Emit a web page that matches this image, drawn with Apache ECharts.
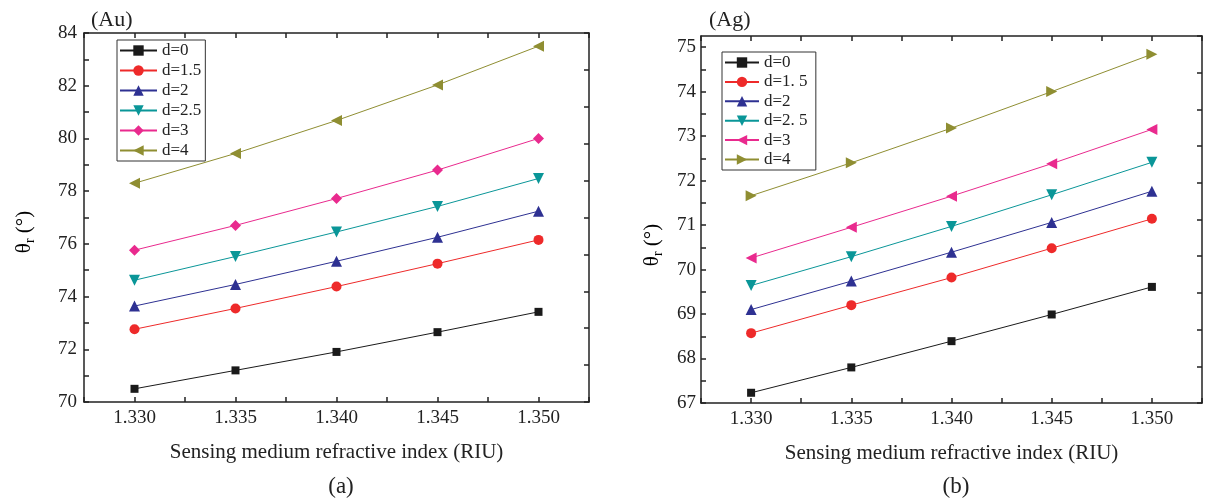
<!DOCTYPE html>
<html><head><meta charset="utf-8">
<script src="https://cdn.jsdelivr.net/npm/echarts@6/dist/echarts.min.js"></script>
<style>html,body{margin:0;padding:0;background:#fff}#c{width:1209px;height:500px}</style>
</head><body><div id="c"></div>
<script>
const xValues = [1.330, 1.335, 1.340, 1.345, 1.350];
const seriesNamesAu = ['d=0', 'd=1.5', 'd=2', 'd=2.5', 'd=3', 'd=4'];
const seriesNamesAg = ['d=0', 'd=1. 5', 'd=2', 'd=2. 5', 'd=3', 'd=4'];
const auD0  = [70.50, 71.20, 71.90, 72.65, 73.42];
const auD15 = [72.76, 73.55, 74.38, 75.25, 76.15];
const auD2  = [73.64, 74.46, 75.34, 76.25, 77.24];
const auD25 = [74.62, 75.52, 76.45, 77.42, 78.48];
const auD3  = [75.76, 76.70, 77.72, 78.80, 80.00];
const auD4  = [78.30, 79.43, 80.68, 82.03, 83.50];
const agD0  = [67.23, 67.80, 68.39, 68.99, 69.61];
const agD15 = [68.57, 69.20, 69.82, 70.48, 71.14];
const agD2  = [69.10, 69.74, 70.39, 71.06, 71.76];
const agD25 = [69.64, 70.29, 70.97, 71.68, 72.41];
const agD3  = [70.26, 70.95, 71.65, 72.38, 73.15];
const agD4  = [71.66, 72.40, 73.18, 74.00, 74.84];

const FONT = 'Liberation Serif';
const colors = ['#1a1a1a', '#ee2a2a', '#2e3192', '#0a9698', '#e92a8e', '#8f8e32'];
const auSymbols = [
  {symbol: 'rect', size: 8, rotate: 0},
  {symbol: 'circle', size: 10, rotate: 0},
  {symbol: 'triangle', size: 11, rotate: 0},
  {symbol: 'triangle', size: 11, rotate: 180},
  {symbol: 'diamond', size: 11, rotate: 0},
  {symbol: 'triangle', size: 11, rotate: 90}
];
const agSymbols = [
  {symbol: 'rect', size: 8, rotate: 0},
  {symbol: 'circle', size: 10, rotate: 0},
  {symbol: 'triangle', size: 11, rotate: 0},
  {symbol: 'triangle', size: 11, rotate: 180},
  {symbol: 'triangle', size: 11, rotate: 90},
  {symbol: 'triangle', size: 11, rotate: -90}
];
const auData = [auD0, auD15, auD2, auD25, auD3, auD4];
const agData = [agD0, agD15, agD2, agD25, agD3, agD4];

const axisLineStyle = {color: '#222', width: 1.5};
function xFmt(v) {
  const k = v * 200;
  return Math.abs(k - Math.round(k)) < 1e-6 ? v.toFixed(3) : '';
}
function xAxes(gi) {
  return [{
    type: 'value', gridIndex: gi, position: 'bottom',
    min: 1.3275, max: 1.3525, interval: 0.0025,
    axisLine: {show: true, lineStyle: axisLineStyle},
    axisTick: {show: true, inside: true, length: 5, lineStyle: axisLineStyle},
    axisLabel: {formatter: xFmt, fontFamily: FONT, fontSize: 19, color: '#222', margin: 7, showMinLabel: true, showMaxLabel: true},
    splitLine: {show: false},
    name: 'Sensing medium refractive index (RIU)', nameLocation: 'middle', nameGap: 40,
    nameTextStyle: {fontFamily: FONT, fontSize: 21, color: '#222'}
  }, {
    type: 'value', gridIndex: gi, position: 'top',
    min: 1.3275, max: 1.3525, interval: 0.0025,
    axisLine: {show: true, lineStyle: axisLineStyle},
    axisTick: {show: true, inside: true, length: 5, lineStyle: axisLineStyle},
    axisLabel: {show: false}, splitLine: {show: false}
  }];
}
function mirrorY(gi) {
  return {
    type: 'value', gridIndex: gi, position: 'right', min: 0, max: 10, interval: 1,
    axisLine: {show: true, lineStyle: axisLineStyle},
    axisTick: {show: true, inside: true, length: 5, lineStyle: axisLineStyle},
    axisLabel: {show: false}, splitLine: {show: false}
  };
}
function buildSeries(names, data, syms, xi, yi) {
  return names.map((n, i) => ({
    type: 'line', name: n, xAxisIndex: xi, yAxisIndex: yi,
    data: xValues.map((x, j) => [x, data[i][j]]),
    symbol: syms[i].symbol, symbolSize: syms[i].size, symbolRotate: syms[i].rotate,
    showAllSymbol: true,
    lineStyle: {color: colors[i], width: 1},
    itemStyle: {color: colors[i]},
    emphasis: {disabled: true}, animation: false, z: 3
  }));
}
const agNames = seriesNamesAg.map(n => n + ' ');

const rich = {
  a: {fontFamily: FONT, fontSize: 21, color: '#222', lineHeight: 26, verticalAlign: 'middle'},
  b: {fontFamily: FONT, fontSize: 14, color: '#222', lineHeight: 26, verticalAlign: 'bottom'}
};

const option = {
  backgroundColor: '#fff',
  animation: false,
  title: [
    {text: '(Au)', left: 86, top: 4, textStyle: {fontFamily: FONT, fontSize: 22, fontWeight: 'normal', color: '#222'}},
    {text: '(Ag)', left: 704, top: 4, textStyle: {fontFamily: FONT, fontSize: 22, fontWeight: 'normal', color: '#222'}},
    {text: '(a)', left: 336, top: 470, textAlign: 'center', textStyle: {fontFamily: FONT, fontSize: 23, fontWeight: 'normal', color: '#222'}},
    {text: '(b)', left: 951, top: 470, textAlign: 'center', textStyle: {fontFamily: FONT, fontSize: 23, fontWeight: 'normal', color: '#222'}}
  ],
  grid: [
    {left: 84, top: 33, width: 505, height: 369, containLabel: false},
    {left: 701, top: 36, width: 501, height: 367, containLabel: false}
  ],
  xAxis: [...xAxes(0), ...xAxes(1)],
  yAxis: [
    {
      type: 'value', gridIndex: 0, position: 'left', min: 70, max: 84, interval: 1,
      axisLine: {show: true, lineStyle: axisLineStyle},
      axisTick: {show: true, inside: true, length: 5, lineStyle: axisLineStyle},
      axisLabel: {formatter: v => (Math.round(v) % 2 === 0 ? String(Math.round(v)) : ''), fontFamily: FONT, fontSize: 19, color: '#222', margin: 7},
      splitLine: {show: false}
    },
    mirrorY(0),
    {
      type: 'value', gridIndex: 1, position: 'left', min: 67, max: 75.25, interval: 0.5,
      axisLine: {show: true, lineStyle: axisLineStyle},
      axisTick: {show: true, inside: true, length: 5, lineStyle: axisLineStyle},
      axisLabel: {formatter: v => (Math.abs(v - Math.round(v)) < 1e-6 ? String(Math.round(v)) : ''), fontFamily: FONT, fontSize: 19, color: '#222', margin: 5, showMaxLabel: false},
      splitLine: {show: false}
    },
    mirrorY(1)
  ],
  legend: [
    {
      data: seriesNamesAu, orient: 'vertical', left: 117, top: 40,
      itemWidth: 37, itemHeight: 13, itemGap: 3,
      padding: [2, 4, 2, 2], borderColor: '#333', borderWidth: 1, borderRadius: 0,
      textStyle: {fontFamily: FONT, fontSize: 17, color: '#222', lineHeight: 17},
      selectedMode: false
    },
    {
      data: agNames, orient: 'vertical', left: 722, top: 52,
      itemWidth: 34, itemHeight: 13, itemGap: 2.4,
      padding: [2, 4, 2, 2], borderColor: '#333', borderWidth: 1, borderRadius: 0,
      textStyle: {fontFamily: FONT, fontSize: 17, color: '#222', lineHeight: 17},
      selectedMode: false
    }
  ],
  graphic: [
    {type: 'text', x: 24, y: 232, rotation: Math.PI / 2,
     style: {text: '{a|θ}{b|r}{a| (°)}', rich: rich, align: 'center', verticalAlign: 'middle'}},
    {type: 'text', x: 652, y: 245, rotation: Math.PI / 2,
     style: {text: '{a|θ}{b|r}{a| (°)}', rich: rich, align: 'center', verticalAlign: 'middle'}}
  ],
  series: [
    ...buildSeries(seriesNamesAu, auData, auSymbols, 0, 0),
    ...buildSeries(agNames, agData, agSymbols, 2, 2)
  ]
};
const chart = echarts.init(document.getElementById('c'), null, {renderer: 'canvas'});
chart.setOption(option);
</script></body></html>
